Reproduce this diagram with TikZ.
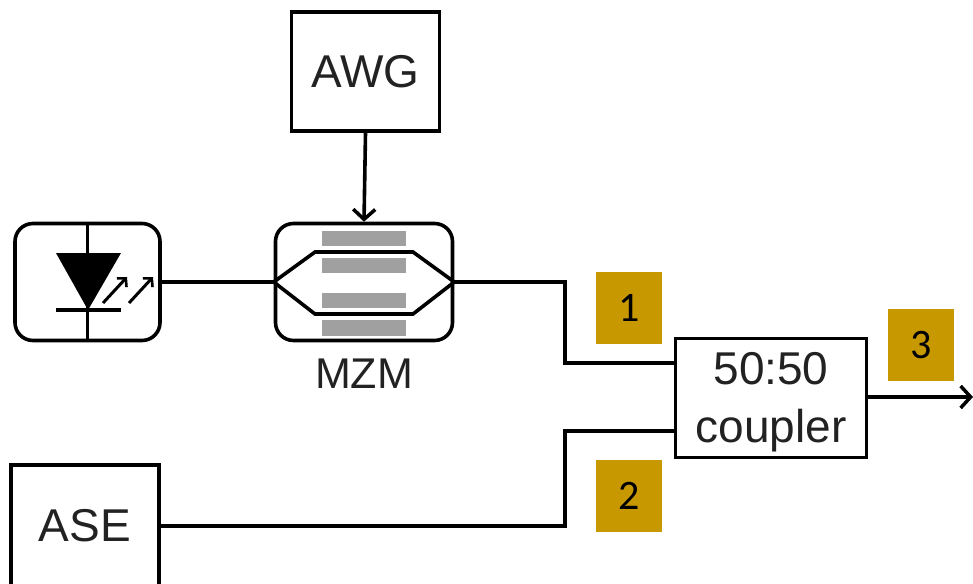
\documentclass[tikz,border=0pt]{standalone}
\usepackage{xcolor}
\usepackage{fontspec}
\setmainfont{Liberation Sans}
\newfontfamily\tagfont{Carlito}
\usepackage{tikz}
\usetikzlibrary{arrows.meta,positioning}
\definecolor{tagcolor}{HTML}{C89800}
\definecolor{barcolor}{HTML}{A0A0A0}
\definecolor{inkcolor}{HTML}{222222}

\begin{document}
\begin{tikzpicture}[x=1pt,y=-1pt,>={Straight Barb[length=10pt,width=22pt,line width=3.5pt]},
    line width=3.6pt,
    blockbox/.style={draw=black,minimum width=148pt,minimum height=119pt,inner sep=0pt,
      text=inkcolor,font=\fontsize{46}{58}\selectfont,align=center},
    devbox/.style={blockbox,rounded corners=18pt,minimum height=117pt},
    tagbox/.style={fill=tagcolor,minimum width=66pt,minimum height=72pt,inner sep=0pt,
      font=\tagfont\fontsize{42}{42}\selectfont}]
  \useasboundingbox (0,0) rectangle (973,583);

  % Blocks
  \node[blockbox] (awg) at (365.5,71.5) {AWG};
  \node[devbox,minimum width=145pt] (led) at (87.5,282) {};
  \node[devbox,minimum width=177pt] (mzm) at (364,282) {};
  \node[below=11pt of mzm,text=inkcolor,font=\fontsize{43}{43}\selectfont] (mzmlabel) {MZM};
  \node[blockbox,minimum height=122pt] (ase) at (85,526) {ASE};
  \node[blockbox,minimum width=191pt] (coupler) at (771,398) {\rule{0pt}{41pt}50:50\\coupler};

  % Numbered tags
  \node[tagbox] (tag1) at (629,308) {1\hspace{6pt}};
  \node[tagbox] (tag2) at (629,496) {2\hspace{6pt}};
  \node[tagbox] (tag3) at (921,345) {3\hspace{6pt}};

  % Free ends and bends
  \coordinate (bend1) at (565,363);
  \coordinate (in1) at (coupler.west |- bend1);
  \coordinate (bend2) at (565,431);
  \coordinate (in2) at (coupler.west |- bend2);
  \coordinate (out) at (973,397);

  % LED symbol
  \draw (led.north) -- (led.south);
  \fill (56,253) -- (121,253) -- (88,310) -- cycle;
  \draw (56,310) -- (121,310);
  \foreach \x in {103,129}
    \draw[->,line width=3pt,>={Straight Barb[length=6pt,width=13pt,line width=2.6pt]}] (\x,303) -- (\x+24,277);

  % Electrodes
  \foreach \y/\h in {231/15,258/15,293/15,320/16}
    \fill[barcolor] (322,\y) rectangle (406,\y+\h);

  % Waveguide arms
  \draw (mzm.west) -- (315,252) -- (413,252) -- (mzm.east) -- (413,314) -- (315,314) -- cycle;

  % Connections
  \draw[->] (awg.south) -- (mzm.north);
  \draw (led.east) -- (mzm.west);
  \draw (mzm.east) -| (bend1) -- (in1);
  \draw (ase.east) -| (bend2) -- (in2);
  \draw[->] (coupler.east |- out) -- (out);
\end{tikzpicture}
\end{document}
